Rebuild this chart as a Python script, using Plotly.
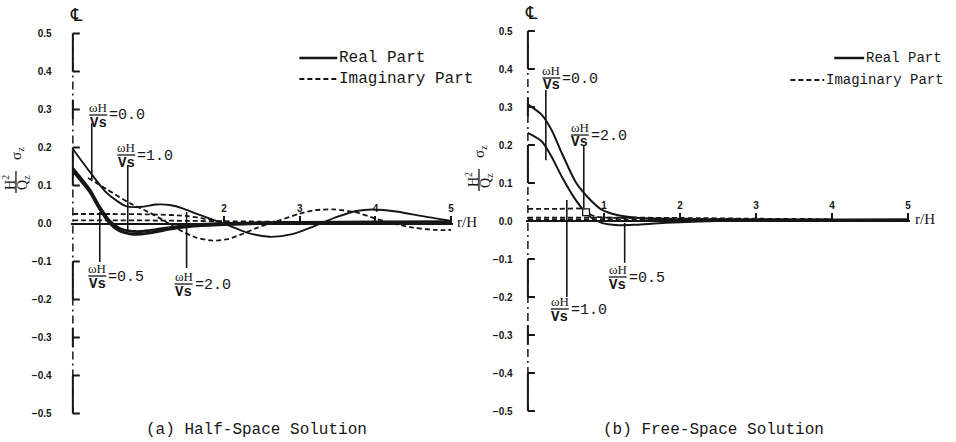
import plotly.graph_objects as go

# ---------------- (a) Half-Space Solution ----------------
# r/H positions and normalised stress H^2/Qz * sigma_z for each curve
half_r_w2 = [0, 0.22, 0.45, 0.71, 0.92, 1.1, 1.3, 1.45, 1.63, 1.85, 2.05, 2.3,
             2.6, 2.9, 3.2, 3.5, 3.75, 3.96, 4.3, 4.6, 5.0]
half_real_w2 = [0.196, 0.137, 0.08, 0.045, 0.044, 0.05, 0.048, 0.04, 0.026, 0.01,
                -0.004, -0.024, -0.035, -0.028, -0.006, 0.018, 0.033, 0.037, 0.031,
                0.02, 0.007]

half_r_imag_w2 = [0.2, 0.45, 0.75, 1.0, 1.2, 1.4, 1.63, 1.85, 2.05, 2.25, 2.45, 2.7,
                  3.0, 3.2, 3.45, 3.75, 4.0, 4.2, 4.5, 4.8, 5.0]
half_imag_w2 = [0.12, 0.09, 0.054, 0.03, 0.008, -0.016, -0.037, -0.045, -0.041,
                -0.027, -0.01, 0.006, 0.026, 0.035, 0.037, 0.029, 0.013, 0.002,
                -0.011, -0.017, -0.017]

half_r_low = [0, 0.22, 0.36, 0.49, 0.62, 0.75, 0.9, 1.1, 1.3, 1.6, 2.0, 2.5, 3.0, 4.0, 5.0]
half_real_w0 = [0.145, 0.09, 0.042, 0.006, -0.013, -0.02, -0.021, -0.016, -0.01,
                -0.004, 0.0, 0.002, 0.003, 0.004, 0.004]
half_real_w05 = [0.138, 0.084, 0.036, 0.0, -0.02, -0.027, -0.028, -0.022, -0.014,
                 -0.007, -0.003, 0.0, 0.002, 0.003, 0.004]

half_r_imag_w05 = [0, 0.5, 1.0, 1.5, 1.75, 2.0, 2.3, 2.7, 3.2, 4.0, 5.0]
half_imag_w05 = [0.025, 0.025, 0.024, 0.02, 0.012, 0.004, 0.001, 0.002, 0.003, 0.004, 0.004]

half_r_imag_w1 = [0, 0.5, 1.0, 1.5, 2.0, 2.5, 3.0, 4.0, 5.0]
half_imag_w1 = [0.008, 0.008, 0.008, 0.007, 0.006, 0.005, 0.004, 0.003, 0.002]

# ---------------- (b) Free-Space Solution ----------------
free_r_w0 = [0, 0.18, 0.31, 0.45, 0.63, 0.8, 0.97, 1.19, 1.5, 2.0, 3.0, 4.0, 5.0]
free_real_w0 = [0.307, 0.28, 0.24, 0.177, 0.102, 0.06, 0.03, 0.015, 0.007, 0.003,
                0.003, 0.003, 0.004]

free_r_w2 = [0, 0.18, 0.31, 0.45, 0.63, 0.8, 0.97, 1.19, 1.4, 1.62, 2.0, 2.5, 3.0, 4.0, 5.0]
free_real_w2 = [0.232, 0.21, 0.17, 0.115, 0.055, 0.014, -0.005, -0.011, -0.01,
                -0.007, -0.003, 0.0, 0.002, 0.003, 0.004]

free_r_imag_a = [0, 0.4, 0.75, 0.8, 0.9, 1.2, 1.6, 2.0, 3.0, 4.0]
free_imag_a = [0.032, 0.032, 0.031, 0.02, 0.011, 0.008, 0.007, 0.006, 0.005, 0.004]

free_r_imag_b = [0, 1, 2, 3, 4]
free_imag_b = [0.009, 0.009, 0.008, 0.006, 0.005]
free_imag_c = [0.004, 0.004, 0.004, 0.003, 0.003]

# axis ticks
y_tick_vals = [-0.5, -0.4, -0.3, -0.2, -0.1, 0.0, 0.1, 0.2, 0.3, 0.4, 0.5]
y_tick_text = ["\u22120.5", "\u22120.4", "\u22120.3", "\u22120.2", "\u22120.1",
               "0.0", "0.1", "0.2", "0.3", "0.4", "0.5"]
half_x_ticks = [2, 3, 4, 5]
free_x_ticks = [1, 2, 3, 4, 5]

# ---------------- drawing ----------------
W, H = 956, 442
INK = "#161616"
MONO = "Liberation Mono, Courier New, monospace"
SERIF = "Liberation Serif, Times New Roman, serif"
SANS = "Liberation Sans, Arial, sans-serif"
DASH = "5px,3px"

XR = [-0.03, 5.02]
YR = [-0.52, 0.52]
# pixel calibration of each panel: origin and pixels per unit
CAL = {
    "half": dict(x0=73.0, xs=75.8, y0=223.5, ys=380.0, xa="x", ya="y"),
    "free": dict(x0=529.0, xs=76.2, y0=221.0, ys=380.0, xa="x2", ya="y2"),
}

fig = go.Figure()


def curve(panel, r, v, dashed=False, width=2.0):
    c = CAL[panel]
    fig.add_trace(go.Scatter(
        x=r, y=v, mode="lines", xaxis=c["xa"], yaxis=c["ya"],
        line=dict(color=INK, width=width, dash=DASH if dashed else "solid",
                  shape="spline", smoothing=0.7),
        hoverinfo="skip", showlegend=False))


curve("half", half_r_imag_w05, half_imag_w05, dashed=True, width=1.8)
curve("half", half_r_imag_w1, half_imag_w1, dashed=True, width=1.8)
curve("half", half_r_imag_w2, half_imag_w2, dashed=True, width=1.8)
curve("half", half_r_w2, half_real_w2, width=1.9)
curve("half", half_r_low, half_real_w0, width=2.8)
curve("half", half_r_low, half_real_w05, width=2.8)

curve("free", free_r_imag_a, free_imag_a, dashed=True, width=1.8)
curve("free", free_r_imag_b, free_imag_b, dashed=True, width=1.8)
curve("free", free_r_imag_b, free_imag_c, dashed=True, width=1.8)
curve("free", free_r_w0, free_real_w0, width=2.0)
curve("free", free_r_w2, free_real_w2, width=2.0)


def axes(panel, xticks):
    c = CAL[panel]
    xdom = [(c["x0"] + XR[0] * c["xs"]) / W, (c["x0"] + XR[1] * c["xs"]) / W]
    ydom = [1 - (c["y0"] - YR[0] * c["ys"]) / H, 1 - (c["y0"] - YR[1] * c["ys"]) / H]
    xa = dict(domain=xdom, range=XR, anchor="free", position=1 - c["y0"] / H,
              side="top", showline=True, linecolor=INK, linewidth=2,
              ticks="outside", ticklen=7, tickwidth=1.6, tickcolor=INK,
              tickvals=xticks, ticktext=[str(t) for t in xticks],
              tickfont=dict(family=SANS, size=10, color=INK, weight="bold"),
              showgrid=False, zeroline=False, fixedrange=True)
    ya = dict(domain=ydom, range=YR, anchor=c["xa"], showline=False, ticks="",
              tickvals=y_tick_vals, ticktext=y_tick_text,
              ticklabelstandoff=18 if panel == "half" else 12,
              tickfont=dict(family=SANS, size=10, color=INK, weight="bold"),
              showgrid=False, zeroline=False, fixedrange=True)
    return xa, ya


hx, hy = axes("half", half_x_ticks)
fx, fy = axes("free", free_x_ticks)

shapes = []


def seg(panel, x0, y0, x1, y1, width=2.0, dash="solid"):
    c = CAL[panel]
    shapes.append(dict(type="line", xref=c["xa"], yref=c["ya"], x0=x0, y0=y0,
                       x1=x1, y1=y1, line=dict(color=INK, width=width, dash=dash)))


def pseg(x0, y0, x1, y1, width=1.6, dash="solid"):
    shapes.append(dict(type="line", xref="paper", yref="paper", x0=x0 / W,
                       y0=1 - y0 / H, x1=x1 / W, y1=1 - y1 / H,
                       line=dict(color=INK, width=width, dash=dash)))


# centre-line style vertical axis with bracket segments
for p in ("half", "free"):
    tick_r = 7.0 / CAL[p]["xs"]
    seg(p, 0, -0.5, 0, 0.5, width=1.5, dash="8px,4px,2px,4px")
    for lo, hi in [(0.4, 0.5), (0.1, 0.2), (-0.2, -0.1), (-0.5, -0.4)]:
        seg(p, 0, lo, 0, hi)
        seg(p, 0, lo, tick_r, lo)
        seg(p, 0, hi, tick_r, hi)
    for yv in (0.3, -0.3):
        seg(p, 0, yv - 0.025, 0, yv + 0.025)
        seg(p, 0, yv, tick_r, yv)

# leader lines from the frequency labels to their curves
leaders = [
    ("half", 0.25, 0.264, 0.114),
    ("half", 0.726, 0.154, -0.022),
    ("half", 0.356, -0.101, 0.03),
    ("half", 1.504, -0.117, 0.03),
    ("free", 0.236, 0.345, 0.16),
    ("free", 0.735, 0.2, 0.034),
    ("free", 0.512, 0.055, -0.2),
    ("free", 1.273, -0.005, -0.11),
]
for p, r, a, b in leaders:
    seg(p, r, a, r, b, width=1.6)

# small open square at the end of the free-space leader
shapes.append(dict(type="rect", xref="x2", yref="y2", x0=0.72, x1=0.81,
                   y0=0.014, y1=0.032, line=dict(color=INK, width=1.3),
                   fillcolor="white", layer="above"))

annotations = []


def text(x, y, s, size, family, xanchor="center", angle=0, bold=False):
    annotations.append(dict(x=x / W, y=1 - y / H, xref="paper", yref="paper",
                            text=s, showarrow=False, xanchor=xanchor,
                            yanchor="middle", textangle=angle,
                            font=dict(family=family, size=size, color=INK,
                                      weight="bold" if bold else "normal")))


def omega_label(xc, ybar, value):
    text(xc, ybar - 7.5, "\u03c9H", 13, SERIF)
    text(xc, ybar + 7.5, "Vs", 14, MONO, bold=True)
    pseg(xc - 9, ybar, xc + 9, ybar, width=1.3)
    text(xc + 9, ybar + 1, "=" + value, 15, MONO, xanchor="left")


omega_label(98.5, 115, "0.0")
omega_label(126.5, 155, "1.0")
omega_label(97.5, 276, "0.5")
omega_label(184, 284, "2.0")
omega_label(552.5, 78, "0.0")
omega_label(581, 135, "2.0")
omega_label(619, 277, "0.5")
omega_label(561, 309, "1.0")


def y_title(xc, yc):
    text(xc - 7, yc, "H<sup>2</sup>", 14, SERIF, angle=-90)
    text(xc + 7, yc, "Q<sub>z</sub>", 14, SERIF, angle=-90)
    pseg(xc, yc - 11, xc, yc + 11, width=1.3)
    text(xc + 1, yc - 29, "\u03c3<sub>z</sub>", 15, SERIF, angle=-90)


y_title(16, 182)
y_title(480, 180)

# centre-line symbols and axis names
text(77, 15, "\u2104", 18, "DejaVu Serif, DejaVu Sans")
text(533, 12, "\u2104", 18, "DejaVu Serif, DejaVu Sans")
text(456, 222, "r/H", 15, SERIF, xanchor="left")
text(915, 219, "r/H", 15, SERIF, xanchor="left")

# legends
pseg(300, 58, 338, 58, width=2.5)
text(338, 58, "Real Part", 16, MONO, xanchor="left")
pseg(300, 79, 338, 79, width=1.8, dash=DASH)
text(338, 79, "Imaginary Part", 16, MONO, xanchor="left")

pseg(836, 58, 866, 58, width=2.5)
text(866, 58, "Real Part", 14, MONO, xanchor="left")
pseg(792, 80, 826, 80, width=1.8, dash=DASH)
text(826, 80, "Imaginary Part", 14, MONO, xanchor="left")

# panel captions
text(257, 430, "(a) Half-Space Solution", 16, MONO)
text(715, 430, "(b) Free-Space Solution", 16, MONO)

fig.update_layout(
    width=W, height=H, margin=dict(l=0, r=0, t=0, b=0),
    paper_bgcolor="white", plot_bgcolor="white", showlegend=False,
    xaxis=hx, yaxis=hy, xaxis2=fx, yaxis2=fy,
    shapes=shapes, annotations=annotations,
)

fig.write_html("out.html")
